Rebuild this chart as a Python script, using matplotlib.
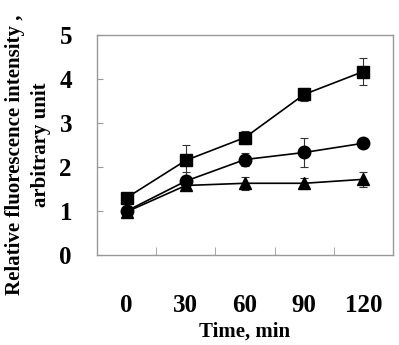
import matplotlib
matplotlib.use("Agg")
import matplotlib.pyplot as plt
import numpy as np

categories = ["0", "30", "60", "90", "120"]
square = [1.30, 2.15, 2.67, 3.65, 4.17]
square_err = [0.0, 0.35, 0.15, 0.15, 0.30]
circle = [1.00, 1.68, 2.17, 2.33, 2.54]
circle_err = [0.0, 0.20, 0.15, 0.33, 0.05]
triangle = [0.98, 1.58, 1.63, 1.63, 1.72]
triangle_err = [0.0, 0.05, 0.15, 0.13, 0.17]

plt.rcParams['font.family'] = ['Liberation Serif', 'DejaVu Serif']
W, H = 399, 345
fig = plt.figure(figsize=(W/100, H/100), dpi=100)
ax = fig.add_axes([97/W, 1-255/H, 296/W, 220/H])

x = np.arange(len(categories))
for vals, err, m in [(triangle, triangle_err, '^'), (circle, circle_err, 'o'), (square, square_err, 's')]:
    ax.errorbar(x, vals, yerr=err, color='black', marker=m, markersize=9,
                linewidth=1.2, elinewidth=0.8, capsize=3, capthick=0.8, ecolor='#333333')

ax.set_xlim(-0.5, len(categories) - 0.5)
ax.set_ylim(0, 5)
ax.set_yticks(range(6))
ax.set_yticklabels([str(i) for i in range(6)], fontsize=18, fontweight='bold')
ax.set_xticks(x)
ax.set_xticklabels(categories, fontsize=18, fontweight='bold')
ax.tick_params(axis='x', length=0, pad=28)
ax.tick_params(axis='y', direction='in', length=4, color='#999999', pad=18)
ax.set_xticks(np.arange(0.5, len(categories) - 0.5), minor=True)
ax.tick_params(axis='x', which='minor', direction='in', length=6, color='#999999')
for s in ax.spines.values():
    s.set_color('#999999')
    s.set_linewidth(1.0)

fig.text(245/W, 1-332/H, 'Time, min', fontsize=15, fontweight='bold', ha='center', va='center')
fig.text(15/W, 1-155/H, 'Relative fluorescence intensity ,', fontsize=15, fontweight='bold',
         rotation=90, ha='center', va='center')
fig.text(41/W, 1-145/H, 'arbitrary unit', fontsize=15, fontweight='bold',
         rotation=90, ha='center', va='center')

fig.savefig('out.png', dpi=100)
